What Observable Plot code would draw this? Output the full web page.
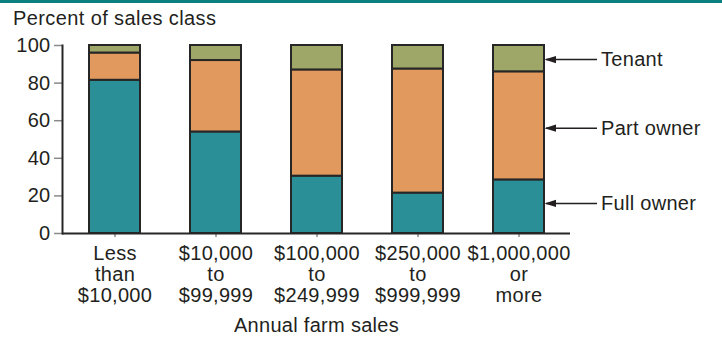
<!DOCTYPE html>
<html><head><meta charset="utf-8">
<script src="https://cdn.jsdelivr.net/npm/d3@7"></script>
<script src="https://cdn.jsdelivr.net/npm/@observablehq/plot@0.6"></script>
<style>
body{margin:0;background:#fff;font-family:"Liberation Sans",Arial,sans-serif;color:#231f20;width:722px;overflow:hidden}
#band{height:3px;background:#0b807e}
#title{font-size:20px;line-height:24px;padding:3px 0 0 13px;height:25px;letter-spacing:0.4px}
</style></head><body>
<div id="band"></div>
<div id="title">Percent of sales class</div>
<div id="chart"></div>
<script>
const categories = ["Less\nthan\n$10,000", "$10,000\nto\n$99,999", "$100,000\nto\n$249,999", "$250,000\nto\n$999,999", "$1,000,000\nor\nmore"];
const series = ["Full owner", "Part owner", "Tenant"];
const fullOwner = [81.5, 54, 30.5, 21.5, 28.5];
const partOwner = [14.5, 38, 56.5, 66, 57.5];
const tenant = [4, 8, 13, 12.5, 14];
const colors = ["#2a8f96", "#e2995e", "#9ea668"];
const yTicks = [0, 20, 40, 60, 80, 100];
const annotationLabels = ["Full owner", "Part owner", "Tenant"];
const annotationY = [16, 56, 92.5];
const xLabel = "Annual farm sales";

const valuesBySeries = [fullOwner, partOwner, tenant];
const data = [];
categories.forEach((c, i) => series.forEach((s, j) => data.push({category: c, series: s, value: valuesBySeries[j][i]})));
const last = categories[categories.length - 1];
const annotations = annotationLabels.map((t, i) => ({label: t, y: annotationY[i]}));

const chart = Plot.plot({
  width: 722,
  height: 306,
  marginTop: 14,
  marginBottom: 104,
  marginLeft: 62,
  marginRight: 152,
  style: {fontFamily: "'Liberation Sans', Arial, sans-serif", fontSize: "20px", color: "#231f20", background: "#fff", letterSpacing: "0.3px"},
  x: {domain: categories, paddingInner: 0.5, paddingOuter: 0.25, label: null},
  y: {domain: [0, 100], label: null},
  color: {domain: series, range: colors},
  marks: [
    Plot.barY(data, {x: "category", y: "value", fill: "series", stroke: "#262626", strokeWidth: 2}),
    Plot.axisY({ticks: yTicks, tickSize: 8, tickPadding: 4, stroke: "#8a8a8a", strokeWidth: 1.5, fill: "#231f20", label: null}),
    Plot.axisX({tickSize: 4, tickPadding: 8, stroke: "#8a8a8a", strokeWidth: 1.5, fill: "#231f20", lineHeight: 1.05, label: null}),
    Plot.frame({anchor: "left", stroke: "#262626", strokeWidth: 2}),
    Plot.ruleY([0], {stroke: "#262626", strokeWidth: 2}),
    Plot.ruleY(annotations, {x1: () => last, x2: () => last, y: "y", dx: 53, stroke: "#231f20", strokeWidth: 1.5, markerStart: "arrow"}),
    Plot.text(annotations, {x: () => last, y: "y", text: "label", dx: 82, textAnchor: "start", lineAnchor: "middle", fill: "#231f20"}),
    Plot.text([xLabel], {frameAnchor: "bottom", dy: 92, lineAnchor: "middle", fill: "#231f20"})
  ]
});
chart.querySelectorAll("marker").forEach(m => {
  m.setAttribute("fill", "#231f20");
  m.setAttribute("stroke", "none");
  m.setAttribute("overflow", "visible");
  const p = m.querySelector("path");
  if (p) p.setAttribute("d", "M-1.5,0L10,-3.6L10,3.6Z");
});
document.getElementById("chart").appendChild(chart);
</script>
</body></html>
